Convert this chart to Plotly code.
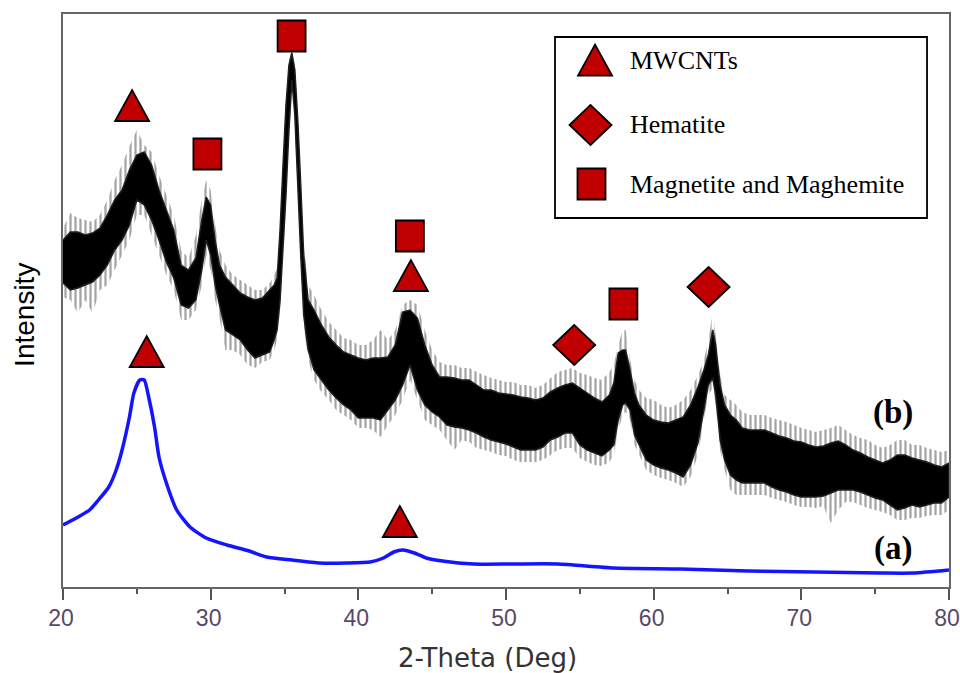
import plotly.graph_objects as go

# ---------------- data (intensity in arbitrary units) ----------------
# (a) pristine MWCNTs, blue trace
blue_x = [20.0, 20.9, 21.8, 22.4, 23.1, 23.6, 24.0, 24.5, 24.8, 25.2, 25.5, 25.8, 26.2, 26.5,
          27.0, 27.7, 28.6, 29.7, 31.1, 32.6, 33.8, 35.5, 37.4, 39.2, 40.8, 41.7, 42.4, 43.0,
          43.8, 44.6, 45.7, 47.8, 50.5, 53.5, 57.3, 61.8, 66.4, 70.9, 75.4, 77.6, 80.0]
blue_y = [62, 69, 77, 87, 100, 117, 137, 170, 194, 207, 207, 190, 160, 130,
          104, 77, 60, 49, 42, 36, 30, 27, 24, 24, 25, 29, 35, 37,
          34, 29, 26, 23, 23, 23, 19, 18, 16, 15, 14, 14, 17]

# (b) MWCNT / iron oxide composite, black noisy trace: dense core band and spike extent
b_x = [20.0, 20.5, 21.0, 21.5, 22.0, 22.5, 23.0, 23.5, 24.0, 24.5, 25.0, 25.5, 26.0, 26.5,
       27.0, 27.5, 28.0, 28.5, 29.0, 29.4, 29.7, 30.0, 30.3, 30.6, 31.0, 31.5, 32.0, 32.5,
       33.0, 33.5, 34.0, 34.3, 34.5, 34.7, 34.9, 35.1, 35.3, 35.5, 35.7, 35.9, 36.1, 36.3,
       36.6, 37.0, 37.5, 38.0, 38.5, 39.0, 39.5, 40.0, 40.5, 41.0, 41.5, 42.0, 42.5, 43.0,
       43.5, 44.0, 44.5, 45.0, 45.5, 46.0, 46.5, 47.0, 47.5, 48.0, 48.5, 49.0, 49.5, 50.0,
       50.5, 51.0, 51.5, 52.0, 52.5, 53.0, 53.5, 54.0, 54.5, 55.0, 55.5, 56.0, 56.5, 57.0,
       57.3, 57.6, 57.9, 58.1, 58.4, 58.7, 59.0, 59.5, 60.0, 60.5, 61.0, 61.5, 62.0, 62.5,
       63.0, 63.4, 63.7, 64.0, 64.2, 64.5, 64.8, 65.2, 65.6, 66.0, 66.5, 67.0, 67.5, 68.0,
       68.5, 69.0, 69.5, 70.0, 70.5, 71.0, 71.5, 72.0, 72.5, 73.0, 73.5, 74.0, 74.5, 75.0,
       75.5, 76.0, 76.5, 77.0, 77.5, 78.0, 78.5, 79.0, 79.5, 80.0]
b_hi = [347, 355, 355, 352, 354, 359, 372, 387, 397, 417, 432, 435, 422, 397,
        377, 357, 322, 317, 329, 367, 390, 382, 347, 322, 310, 302, 294, 290,
        287, 289, 297, 302, 309, 357, 422, 482, 522, 534, 517, 467, 402, 332,
        287, 277, 262, 250, 242, 235, 232, 229, 227, 229, 229, 230, 242, 275,
        277, 269, 242, 222, 210, 210, 209, 207, 207, 202, 197, 197, 194, 193,
        192, 190, 189, 187, 189, 195, 199, 202, 204, 199, 194, 189, 185, 192,
        204, 234, 237, 237, 217, 194, 182, 172, 167, 165, 164, 167, 170, 182,
        200, 217, 232, 257, 242, 202, 182, 172, 167, 159, 157, 157, 157, 154,
        151, 149, 146, 145, 142, 140, 141, 144, 146, 142, 137, 134, 130, 127,
        124, 127, 132, 132, 129, 127, 125, 122, 120, 124]
b_lo = [304, 297, 299, 302, 305, 312, 322, 337, 347, 362, 387, 382, 367, 347,
        325, 309, 282, 279, 287, 317, 347, 332, 302, 282, 257, 252, 247, 237,
        229, 232, 235, 247, 257, 287, 332, 392, 457, 507, 472, 402, 332, 272,
        237, 217, 207, 197, 189, 182, 177, 169, 169, 169, 167, 177, 187, 202,
        222, 197, 182, 175, 170, 162, 160, 159, 157, 154, 150, 147, 145, 143,
        140, 137, 137, 137, 140, 147, 150, 154, 154, 142, 137, 134, 131, 137,
        142, 167, 182, 184, 177, 152, 142, 127, 122, 119, 117, 114, 110, 122,
        144, 177, 202, 209, 192, 147, 127, 112, 107, 104, 104, 104, 104, 100,
        97, 95, 92, 90, 90, 90, 91, 94, 97, 97, 97, 95, 92, 89,
        87, 82, 77, 79, 82, 80, 82, 84, 84, 90]
b_top = [359, 374, 369, 367, 365, 372, 387, 407, 422, 441, 457, 442, 435, 412,
         392, 372, 337, 329, 352, 387, 407, 397, 362, 337, 322, 312, 307, 302,
         297, 297, 304, 312, 319, 362, 427, 487, 527, 537, 522, 472, 407, 342,
         302, 292, 277, 265, 257, 249, 247, 242, 242, 247, 257, 247, 257, 282,
         287, 282, 257, 237, 225, 222, 222, 219, 219, 215, 212, 209, 207, 205,
         205, 202, 202, 199, 202, 209, 215, 217, 219, 214, 212, 209, 207, 215,
         222, 242, 257, 257, 227, 207, 197, 189, 187, 182, 179, 182, 187, 197,
         212, 227, 247, 274, 252, 212, 192, 187, 182, 175, 172, 172, 172, 169,
         167, 165, 162, 159, 157, 155, 157, 159, 162, 157, 152, 149, 147, 142,
         139, 142, 147, 147, 142, 142, 139, 137, 135, 137]
b_bot = [290, 287, 274, 287, 274, 297, 302, 317, 332, 347, 372, 372, 352, 332,
         312, 297, 267, 267, 277, 302, 332, 317, 287, 269, 237, 237, 232, 222,
         219, 225, 227, 237, 247, 277, 322, 382, 447, 497, 462, 392, 322, 262,
         227, 207, 195, 187, 177, 172, 167, 159, 159, 157, 150, 162, 172, 187,
         207, 187, 167, 162, 157, 147, 137, 147, 145, 139, 137, 135, 132, 131,
         127, 125, 125, 125, 127, 132, 137, 139, 139, 129, 125, 122, 121, 125,
         132, 157, 172, 175, 167, 142, 132, 117, 112, 109, 107, 104, 100, 110,
         132, 167, 192, 199, 182, 137, 117, 97, 92, 92, 92, 92, 92, 89,
         87, 85, 82, 80, 80, 79, 81, 64, 77, 85, 85, 82, 79, 77,
         75, 72, 67, 67, 69, 69, 71, 72, 72, 77]

# peak assignments (2-theta, marker height, phase)
peak_x = [24.68, 29.78, 35.48, 43.49, 43.56, 54.62, 57.95, 63.72, 25.67, 42.81]
peak_y = [481, 433, 551, 351, 311, 242, 283, 300, 235, 65]
peak_phase = ["MWCNTs", "Magnetite and Maghemite", "Magnetite and Maghemite",
              "Magnetite and Maghemite", "MWCNTs", "Hematite",
              "Magnetite and Maghemite", "Hematite", "MWCNTs", "MWCNTs"]

phases = ["MWCNTs", "Hematite", "Magnetite and Maghemite"]
sample_labels = ["(b)", "(a)"]
sample_label_x = [76.2, 76.2]
sample_label_y = [175, 39]

x_ticks = [20, 30, 40, 50, 60, 70, 80]

# ---------------- styling ----------------
RED = "#c00000"
symbol_path = {
    "MWCNTs": "M-17,-15 L17,-15 L0,16 Z",
    "Hematite": "M-21,0 L0,20 L21,0 L0,-20 Z",
    "Magnetite and Maghemite": "M-14,-15.5 L14,-15.5 L14,15.5 L-14,15.5 Z",
}

fig = go.Figure()

# black trace (b): spiky halo (vertical hatching) then dense core
fig.add_trace(go.Scatter(
    x=b_x + b_x[::-1], y=b_top + b_bot[::-1], fill="toself", mode="lines",
    line=dict(width=0), fillcolor="rgba(0,0,0,0)",
    fillpattern=dict(shape="|", size=5, solidity=0.45, fgcolor="#4a4a4a",
                     bgcolor="rgba(255,255,255,0)"),
    hoverinfo="skip", showlegend=False))
fig.add_trace(go.Scatter(
    x=b_x + b_x[::-1], y=b_hi + b_lo[::-1], fill="toself", mode="lines",
    line=dict(width=1.5, color="#202020"), fillcolor="black",
    name="(b)", showlegend=False))

# blue trace (a)
fig.add_trace(go.Scatter(
    x=blue_x, y=blue_y, mode="lines", line=dict(color="#1414ff", width=3.5, shape="spline",
                                                smoothing=0.6),
    name="(a)", showlegend=False))

shapes = []
for px_, py_, ph in zip(peak_x, peak_y, peak_phase):
    shapes.append(dict(type="path", xref="x", yref="y", xsizemode="pixel", ysizemode="pixel",
                       xanchor=px_, yanchor=py_, path=symbol_path[ph],
                       fillcolor=RED, line=dict(color="black", width=1.8), layer="above"))

# legend box (manual, large symbols as in the original)
shapes.append(dict(type="rect", xref="paper", yref="paper", x0=0.5553, x1=0.9752,
                   y0=0.644, y1=0.9599, line=dict(color="black", width=1.8),
                   fillcolor="white", layer="above"))
legend_sym_x = [0.6005, 0.5954, 0.5965]
legend_y = [0.9188, 0.8063, 0.7033]
annotations = []
for ph, sx, ly in zip(phases, legend_sym_x, legend_y):
    shapes.append(dict(type="path", xref="paper", yref="paper", xsizemode="pixel",
                       ysizemode="pixel", xanchor=sx, yanchor=ly, path=symbol_path[ph],
                       fillcolor=RED, line=dict(color="black", width=1.8), layer="above"))
    annotations.append(dict(text=ph, xref="paper", yref="paper", x=0.638, y=ly,
                            xanchor="left", yanchor="middle", showarrow=False,
                            font=dict(family="Liberation Serif", size=26, color="black")))

for t, sx, sy in zip(sample_labels, sample_label_x, sample_label_y):
    annotations.append(dict(text="<b>%s</b>" % t, x=sx, y=sy, xref="x", yref="y",
                            showarrow=False, xanchor="center", yanchor="middle",
                            font=dict(family="Liberation Serif", size=33, color="black")))

# axis titles
annotations.append(dict(text="2-Theta (Deg)", xref="paper", yref="paper", x=0.4786, y=-0.124,
                        xanchor="center", yanchor="middle", showarrow=False,
                        font=dict(family="DejaVu Sans", size=26, color="#333333")))
annotations.append(dict(text="Intensity", xref="paper", yref="paper", x=-0.043, y=0.4747,
                        xanchor="center", yanchor="middle", showarrow=False, textangle=-90,
                        font=dict(family="Liberation Sans", size=28, color="black")))

fig.update_layout(
    width=960, height=673, margin=dict(l=63, r=11, t=14, b=86, autoexpand=False),
    plot_bgcolor="white", paper_bgcolor="white",
    shapes=shapes, annotations=annotations, showlegend=False,
    xaxis=dict(range=[20, 80], tickvals=x_ticks, ticks="outside", ticklen=11, tickwidth=2,
               tickcolor="#555555", showline=True, linecolor="#666666", linewidth=2,
               mirror=True, showgrid=False, zeroline=False, automargin=False,
               ticklabeloverflow="allow", ticklabelstandoff=-2, ticklabelshift=-2,
               tickfont=dict(family="Liberation Sans", size=23, color="#58486a"),
               minor=dict(dtick=5, ticks="outside", ticklen=5, tickwidth=2,
                          tickcolor="#555555", showgrid=False)),
    yaxis=dict(range=[0, 573], showticklabels=False, ticks="", showline=True,
               linecolor="#666666", linewidth=2, mirror=True, showgrid=False,
               zeroline=False, automargin=False),
)

fig.write_html("out.html")
